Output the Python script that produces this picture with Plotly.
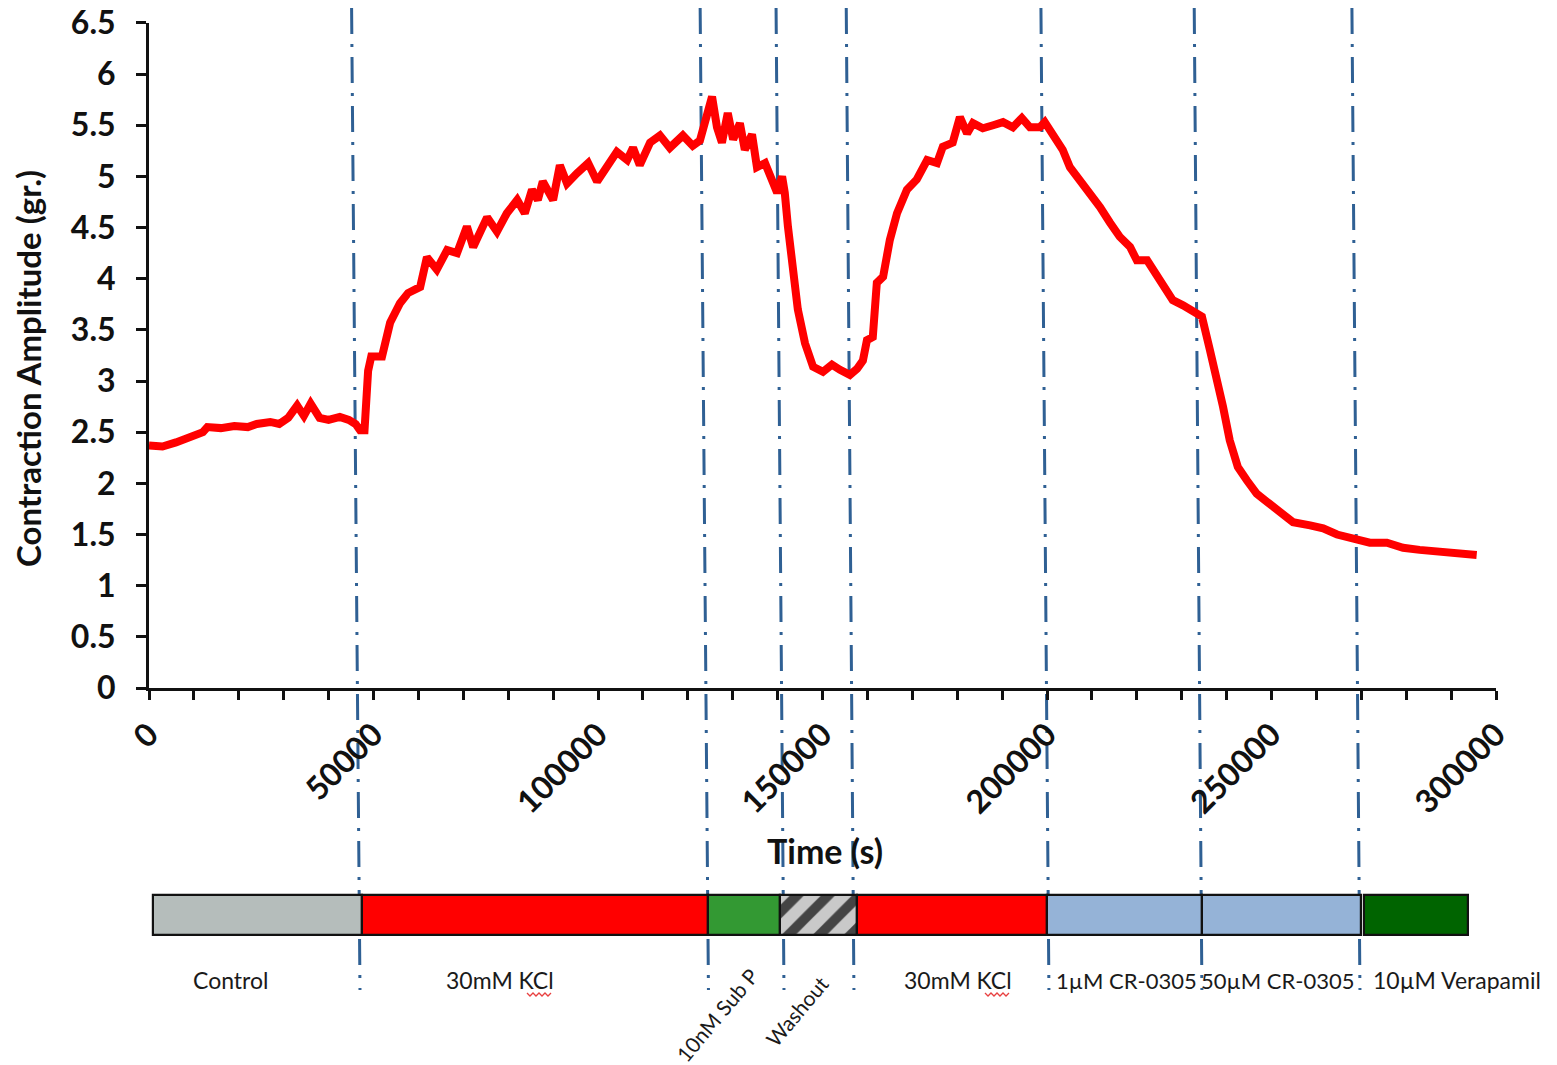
import plotly.graph_objects as go

# ---------------- data ----------------
time_s = [0, 3000, 6000, 9000, 12000, 13000, 16000, 19000, 22000, 24000, 27000, 29000, 31000,
          33000, 34500, 36000, 38000, 40000, 42500, 44500, 46000, 47000, 48000, 48800, 49500,
          51900, 53700, 55900, 57700, 60400, 61900, 64100, 66400, 68600, 70800, 72200, 75300,
          77500, 79700, 82000, 83700, 85300, 86600, 87700, 90000, 91500, 93100, 95300, 97800,
          99800, 101100, 104200, 106500, 107800, 109300, 111600, 113800, 116000, 118900, 121100,
          122700, 123400, 125400, 126500, 127600, 128900, 130100, 131600, 132700, 134300, 135400,
          137200, 138700, 139900, 141000, 141600, 142300, 143400, 144500, 146100, 147900, 150100,
          152100, 153900, 156100, 157700, 159000, 159900, 161200, 162100, 163500, 165000, 166600,
          168800, 171000, 173300, 175500, 176800, 179000, 180600, 182200, 183500, 185700, 188000,
          190200, 192400, 194400, 196200, 198400, 199500, 201300, 203500, 205100, 207300, 209600,
          211800, 214000, 216200, 218500, 220000, 222300, 223600, 225800, 228000, 230300, 232500,
          234500, 236300, 237800, 239200, 240700, 242500, 244500, 246700, 249000, 251900, 254800,
          258600, 261500, 264600, 268100, 271900, 275700, 279300, 283000, 287500, 291300, 295700]
amplitude = [2.37, 2.36, 2.40, 2.44, 2.50, 2.55, 2.54, 2.56, 2.55, 2.58, 2.60, 2.58, 2.64,
             2.76, 2.66, 2.78, 2.64, 2.62, 2.65, 2.62, 2.58, 2.52, 2.52, 3.10, 3.24,
             3.24, 3.57, 3.76, 3.86, 3.92, 4.21, 4.09, 4.28, 4.25, 4.51, 4.31, 4.60,
             4.46, 4.64, 4.77, 4.64, 4.87, 4.77, 4.95, 4.77, 5.11, 4.93, 5.03, 5.13,
             4.95, 5.03, 5.24, 5.16, 5.28, 5.11, 5.33, 5.40, 5.28, 5.40, 5.30,
             5.35, 5.48, 5.78, 5.48, 5.33, 5.62, 5.36, 5.52, 5.26, 5.41, 5.09,
             5.13, 4.97, 4.84, 5.00, 4.84, 4.51, 4.02, 3.70, 3.37, 3.14, 3.09,
             3.16, 3.11, 3.06, 3.12, 3.20, 3.40, 3.43, 3.96, 4.02, 4.38, 4.64,
             4.87, 4.97, 5.16, 5.13, 5.29, 5.33, 5.58, 5.42, 5.52, 5.47, 5.50,
             5.53, 5.48, 5.57, 5.48, 5.48, 5.53, 5.42, 5.26, 5.09, 4.97, 4.84,
             4.70, 4.55, 4.41, 4.31, 4.18, 4.18, 4.09, 3.92, 3.79, 3.74, 3.68,
             3.63, 3.30, 3.05, 2.75, 2.42, 2.16, 2.03, 1.90, 1.82, 1.71, 1.62,
             1.59, 1.56, 1.50, 1.46, 1.42, 1.42, 1.37, 1.35, 1.33, 1.32, 1.30]

phase_labels = ["Control", "30mM KCl", "10nM Sub P", "Washout", "30mM KCl",
                "1µM CR-0305", "50µM CR-0305", "10µM Verapamil"]
phase_start = [891, 47440, 124490, 140530, 157670, 199990, 234510, 270590]
phase_end = [47440, 124490, 140530, 157670, 199990, 234510, 269920, 293750]
phase_colors = ["#b5bdbb", "#ff0000", "#339933", "#c9c9c9", "#ff0000",
                "#95b3d7", "#95b3d7", "#006400"]
phase_patterns = ["", "", "", "/", "", "", "", ""]
label_x = [18260, 78170, 126300, 144100, 180170, 217600, 251400, 291300]
label_angle = [0, 0, -50, -50, 0, 0, 0, 0]
label_ypx = [980, 980, 1015, 1011, 980, 980, 980, 980]
label_size = [23, 23, 21, 21, 23, 22, 22, 23]

event_top = [45120, 122750, 139660, 155290, 198650, 232790, 267910]
event_bottom = [46990, 124600, 141420, 157000, 200430, 234500, 269700]

y_ticks = [0, 0.5, 1, 1.5, 2, 2.5, 3, 3.5, 4, 4.5, 5, 5.5, 6, 6.5]

# ---------------- layout helpers ----------------
W, H = 1557, 1065
OFF = 8  # page body margin in front of the figure


def px(p):
    return (p - OFF) / W


def py(p):
    return 1 - (p - OFF) / H


tick_font = dict(family="Lato", size=32, color="#111111", weight="bold")

fig = go.Figure()

fig.add_trace(go.Scatter(
    x=time_s, y=amplitude, mode="lines",
    line=dict(color="#ff0000", width=8),
    xaxis="x", yaxis="y", showlegend=False, hoverinfo="skip"))

fig.add_trace(go.Bar(
    orientation="h",
    y=[0] * len(phase_start),
    x=[e - s for s, e in zip(phase_start, phase_end)],
    base=phase_start,
    width=1,
    marker=dict(color=phase_colors,
                line=dict(color="#111111", width=2.2),
                pattern=dict(shape=phase_patterns, fgcolor="#262626",
                             bgcolor=phase_colors, fgopacity=1,
                             size=22, solidity=0.45, fillmode="overlay")),
    xaxis="x", yaxis="y2", showlegend=False, hoverinfo="skip"))

shapes = []
for t0, t1 in zip(event_top, event_bottom):
    shapes.append(dict(type="line", xref="x", yref="paper",
                       x0=t0, y0=py(8), x1=t1, y1=py(990),
                       line=dict(color="#2f6094", width=3, dash="26px,10px,3px,10px"),
                       layer="below"))

# red spell-check squiggles under "KCl"
for x0p, x1p in [(527, 553), (985, 1011)]:
    pts = []
    xx = x0p
    k = 0
    while xx <= x1p:
        yy = 994 + (2 if k % 2 else -1)
        pts.append(f"{px(xx):.5f},{py(yy):.5f}")
        xx += 3
        k += 1
    shapes.append(dict(type="path", xref="paper", yref="paper",
                       path="M" + " L".join(pts),
                       line=dict(color="#e84040", width=1.3)))

annotations = []
for lab, lx, ang, lyp, fs in zip(phase_labels, label_x, label_angle, label_ypx, label_size):
    annotations.append(dict(text=lab, x=lx, y=py(lyp), xref="x", yref="paper",
                            showarrow=False, textangle=ang,
                            xanchor="center", yanchor="middle",
                            font=dict(family="Lato", size=fs, color="#1a1a1a")))

annotations.append(dict(text="Contraction Amplitude (gr.)", x=px(28), y=py(369),
                        xref="paper", yref="paper", showarrow=False, textangle=-90,
                        xanchor="center", yanchor="middle",
                        font=dict(family="Lato", size=33, color="#111111", weight="bold")))
annotations.append(dict(text="Time (s)", x=px(825), y=py(851),
                        xref="paper", yref="paper", showarrow=False,
                        xanchor="center", yanchor="middle",
                        font=dict(family="Lato", size=34, color="#111111", weight="bold")))

y_top = 6.5
fig.update_layout(
    width=W, height=H,
    margin=dict(l=0, r=0, t=0, b=0, autoexpand=False),
    paper_bgcolor="white",
    plot_bgcolor="rgba(0,0,0,0)",
    showlegend=False,
    shapes=shapes,
    annotations=annotations,
    xaxis=dict(domain=[px(149), px(1496)], range=[0, 300000],
               tickmode="linear", tick0=0, dtick=50000,
               tickformat="d", ticks="outside", ticklen=9, tickwidth=2.5,
               tickcolor="#111111", showline=True, linewidth=3, linecolor="#111111",
               tickangle=-45, tickfont=tick_font, showgrid=False, zeroline=False,
               minor=dict(dtick=10000, ticks="outside", ticklen=9, tickwidth=2.5,
                          tickcolor="#111111", showgrid=False),
               anchor="y", automargin=False, ticklabelstandoff=3,
               ticklabeloverflow="allow"),
    yaxis=dict(domain=[py(688), py(22.9)], range=[0, y_top + 0.0002],
               tickmode="array", tickvals=y_ticks,
               ticks="outside", ticklen=10, tickwidth=2.5, tickcolor="#111111",
               showline=True, linewidth=3, linecolor="#111111",
               tickfont=tick_font, showgrid=False, zeroline=False,
               anchor="x", automargin=False, ticklabelstandoff=14,
               ticklabeloverflow="allow"),
    yaxis2=dict(domain=[py(940), py(890)], range=[-0.625, 0.625],
                visible=False, anchor="x", fixedrange=True, automargin=False),
    bargap=0,
)

fig.write_html("out.html")
